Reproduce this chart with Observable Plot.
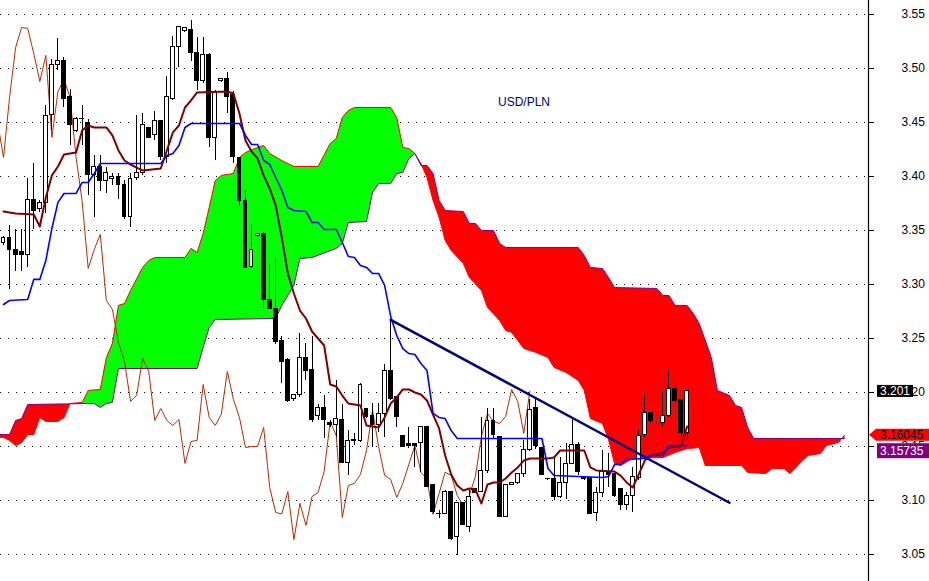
<!DOCTYPE html>
<html><head><meta charset="utf-8">
<script src="https://cdn.jsdelivr.net/npm/d3@7"></script>
<script src="https://cdn.jsdelivr.net/npm/@observablehq/plot@0.6"></script>
<style>html,body{margin:0;padding:0;background:#fff;} #chart{width:929px;height:581px;overflow:hidden;position:relative;}</style>
</head><body><div id="chart"></div>
<script>
// ---- Candles (bar index 0..113) ----
const open = [
3.338,3.3426,3.3324,3.3297,3.3269,3.3778,3.3695,3.375,3.4565,3.5037,
3.5065,3.4732,3.4417,3.4537,3.4491,3.401,3.4084,3.3954,3.3973,3.3991,
3.3917,3.3621,3.3982,3.4028,3.4445,3.438,3.451,3.4176,3.4713,3.5195,
3.5343,3.5361,3.5139,3.488,3.5121,3.4361,3.488,3.4899,3.475,3.4167,
3.3769,3.3158,3.3445,3.3463,3.2852,3.2769,3.2473,3.2297,3.1936,3.1973,
3.2315,3.2204,3.1787,3.1852,3.1713,3.1695,3.1741,3.1343,3.1547,3.1547,
3.1843,3.1778,3.1695,3.1797,3.2195,3.1954,3.1593,3.1519,3.1519,3.1528,
3.1676,3.1139,3.0871,3.0871,3.1083,3.0658,3.0973,3.075,3.1102,3.1083,
3.1269,3.1732,3.1584,3.0843,3.1148,3.1158,3.1241,3.1463,3.1852,3.1482,
3.12,3.1195,3.1028,3.1158,3.1334,3.151,3.1204,3.1204,3.088,3.1074,
3.125,3.1241,3.1111,3.0954,3.1046,3.1204,3.1602,3.1806,3.1713,3.1713,
3.1778,3.2028,3.1926,3.1621];
const high = [
3.3445,3.3547,3.351,3.351,3.3982,3.4121,3.3778,3.4658,3.5084,3.5278,
3.5102,3.4806,3.4547,3.4658,3.4528,3.4195,3.4195,3.4084,3.4028,3.4028,
3.3963,3.4028,3.4565,3.4584,3.4454,3.4602,3.4519,3.4926,3.5297,3.539,
3.538,3.5445,3.5287,3.5287,3.5139,3.4797,3.4908,3.4963,3.4787,3.4176,
3.3871,3.3556,3.3473,3.3482,3.3186,3.325,3.2519,3.2315,3.1982,3.2547,
3.2454,3.2519,3.1889,3.1973,3.1741,3.2111,3.1889,3.1648,3.1621,3.2084,
3.1852,3.1898,3.1898,3.226,3.2676,3.1954,3.1593,3.1676,3.1519,3.1676,
3.1676,3.1139,3.0908,3.1093,3.1083,3.0973,3.0973,3.1093,3.1102,3.1769,
3.1852,3.1852,3.1593,3.1139,3.1167,3.1241,3.1556,3.1936,3.1936,3.1482,
3.1204,3.1398,3.1398,3.1528,3.1759,3.1537,3.1213,3.1204,3.1121,3.1463,
3.1435,3.1241,3.1111,3.1074,3.1306,3.1648,3.1991,3.1815,3.1723,3.2,
3.2204,3.212,3.1926,3.2019];
const low = [
3.3361,3.2954,3.3121,3.3121,3.3158,3.351,3.3667,3.3658,3.4426,3.4982,
3.4639,3.4287,3.4408,3.4287,3.3824,3.3621,3.3861,3.3843,3.3917,3.3787,
3.3602,3.3528,3.3963,3.401,3.4352,3.4334,3.4148,3.4121,3.4704,3.501,
3.5334,3.5065,3.4797,3.4861,3.4269,3.4148,3.4871,3.4584,3.4121,3.3723,
3.3149,3.3149,3.3435,3.2778,3.2769,3.2445,3.2084,3.1908,3.1917,3.1954,
3.2111,3.1723,3.1741,3.1574,3.1676,3.1584,3.1343,3.1232,3.151,3.1537,
3.1759,3.1491,3.163,3.1584,3.1926,3.1676,3.1491,3.1482,3.1306,3.1262,
3.1121,3.088,3.0834,3.0871,3.063,3.0491,3.0769,3.0704,3.1074,3.1083,
3.125,3.1565,3.0843,3.0843,3.1139,3.1148,3.1213,3.1454,3.1472,3.1232,
3.1185,3.1,3.1019,3.101,3.1334,3.1232,3.1185,3.0871,3.0806,3.1028,
3.1121,3.1028,3.0908,3.0908,3.0889,3.1185,3.1584,3.1713,3.1704,3.1686,
3.1769,3.1898,3.1537,3.1537];
const close = [
3.3426,3.3315,3.3269,3.3269,3.3778,3.3676,3.375,3.4556,3.5037,3.5065,
3.4713,3.4473,3.4537,3.4528,3.401,3.4084,3.3954,3.4037,3.3991,3.3917,
3.3621,3.3973,3.4037,3.4473,3.4361,3.451,3.4176,3.4732,3.5195,3.538,
3.5371,3.5139,3.488,3.5121,3.4361,3.4787,3.4899,3.4732,3.4176,3.3769,
3.3149,3.3324,3.3463,3.2852,3.2769,3.2463,3.2287,3.1917,3.1973,3.2315,
3.2195,3.1741,3.1852,3.1741,3.1695,3.175,3.1343,3.1547,3.1556,3.2074,
3.1769,3.1695,3.1797,3.2195,3.1936,3.1769,3.1491,3.15,3.15,3.1676,
3.1121,3.0889,3.0875,3.1083,3.0639,3.0973,3.0769,3.1037,3.1074,3.1269,
3.1732,3.1602,3.0843,3.1139,3.1158,3.1241,3.1463,3.1834,3.15,3.1232,
3.1195,3.1028,3.1158,3.1334,3.151,3.1262,3.1195,3.0871,3.1065,3.1262,
3.1232,3.1046,3.0954,3.1046,3.1222,3.1593,3.1806,3.1732,3.1713,3.1778,
3.2028,3.1917,3.1621,3.201];

// ---- Ichimoku lines: [bar index, price] vertices ----
const tenkan = [[0,3.2815],[1,3.2852],[4,3.2861],[5,3.3047],[6,3.3047],[7,3.3223],[8,3.3519],[9,3.376],[10,3.3843],[12,3.3843],[13,3.3945],[14,3.3945],[15,3.4028],[16,3.4121],[26,3.4121],[27,3.4195],[28,3.4213],[29,3.4287],[30,3.4454],[31,3.4491],[39,3.4491],[40,3.438],[41,3.4296],[42,3.4296],[43,3.4148],[44,3.4111],[45,3.3991],[46,3.3871],[47,3.3713],[48,3.3685],[50,3.3676],[51,3.3574],[52,3.3574],[53,3.3509],[55,3.3509],[56,3.3389],[57,3.3259],[58,3.325],[59,3.3176],[60,3.3158],[61,3.3102],[62,3.3102],[63,3.2991],[64,3.2704],[65,3.2528],[66,3.2407],[67,3.2361],[68,3.2352],[69,3.2269],[70,3.2204],[71,3.1806],[72,3.1769],[73,3.1759],[74,3.1648],[75,3.1574],[89,3.1574],[90,3.1296],[91,3.1231],[99,3.1213],[100,3.1222],[101,3.1333],[102,3.1333],[103,3.138],[106,3.1389],[107,3.1417],[109,3.1417],[110,3.1509],[113,3.1509]];
const kijun = [[0,3.3676],[2,3.3657],[5,3.3648],[6,3.3537],[7,3.3806],[8,3.401],[9,3.4093],[10,3.4204],[12,3.4222],[13,3.4426],[14,3.4472],[15,3.4454],[17,3.4454],[18,3.438],[19,3.4241],[20,3.4148],[21,3.4111],[22,3.4083],[23,3.4056],[26,3.4074],[27,3.4241],[28,3.4408],[29,3.4472],[30,3.4639],[31,3.4704],[32,3.4778],[37,3.4787],[38,3.4769],[39,3.4584],[40,3.4334],[41,3.4232],[42,3.4167],[43,3.401],[44,3.3889],[45,3.3732],[46,3.3435],[47,3.3102],[48,3.2917],[49,3.2759],[50,3.2685],[51,3.2565],[52,3.25],[53,3.2435],[54,3.2074],[55,3.2056],[56,3.1972],[57,3.1898],[59,3.188],[60,3.1694],[62,3.1676],[63,3.1769],[64,3.1898],[65,3.1954],[66,3.2028],[67,3.2028],[68,3.2],[69,3.1982],[70,3.1926],[71,3.1796],[72,3.1667],[73,3.1417],[74,3.1241],[75,3.1139],[76,3.1093],[77,3.1111],[78,3.1102],[79,3.0972],[80,3.1148],[81,3.1167],[82,3.1167],[83,3.1204],[84,3.126],[85,3.1306],[86,3.137],[87,3.1389],[90,3.1389],[91,3.1398],[92,3.1463],[96,3.1463],[97,3.1306],[98,3.1278],[101,3.1268],[102,3.1231],[103,3.1167],[104,3.112],[105,3.1241],[106,3.137],[107,3.1417],[109,3.1444],[110,3.1491],[112,3.1502],[113,3.1685]];
const senkouA = [[-1,3.1584],[0,3.1584],[1,3.1556],[2,3.1509],[3,3.1537],[4,3.1611],[5,3.1611],[6,3.1769],[7,3.1732],[9,3.1732],[10,3.1769],[11,3.1898],[13,3.1908],[14,3.2019],[16,3.2028],[17,3.2324],[18,3.2454],[19,3.2806],[20,3.2824],[21,3.2945],[23,3.3158],[24,3.3222],[25,3.325],[30,3.325],[31,3.3334],[32,3.3297],[33,3.3472],[34,3.3713],[35,3.3963],[36,3.401],[38,3.4028],[39,3.4176],[40,3.4222],[42,3.4269],[43,3.4287],[44,3.4213],[46,3.4148],[48,3.4093],[52,3.4093],[54,3.4306],[55,3.4352],[56,3.4547],[57,3.4611],[58,3.4639],[64,3.4639],[65,3.4547],[66,3.4269],[67,3.4259],[68,3.4213],[69,3.412],[70,3.3991],[71,3.3778],[72,3.3621],[73,3.3408],[74,3.3315],[76,3.3195],[77,3.3065],[79,3.2945],[80,3.2787],[82,3.2667],[83,3.2574],[84,3.2556],[86,3.2408],[88,3.2371],[90,3.2324],[91,3.2232],[93,3.2186],[95,3.2111],[96,3.2019],[97,3.1759],[99,3.1713],[100,3.1565],[101,3.1342],[102,3.1324],[104,3.1389],[109,3.1398],[111,3.1444],[113,3.1481],[115,3.149],[116,3.1324],[122,3.1324],[123,3.1259],[126,3.125],[127,3.1296],[129,3.1296],[130,3.125],[132,3.137],[133,3.1417],[135,3.1435],[136,3.1509],[138,3.1537],[139,3.16045]];
const senkouB = [[-1,3.1611],[1,3.1611],[2,3.1741],[3,3.1759],[4,3.1889],[11,3.1895],[13,3.1898],[15,3.1898],[16,3.1861],[17,3.1898],[18,3.1908],[19,3.2222],[32,3.2222],[33,3.2417],[34,3.2602],[35,3.2676],[45,3.2685],[46,3.2806],[47,3.2898],[48,3.2991],[49,3.3241],[51,3.325],[55,3.3334],[56,3.338],[57,3.3574],[60,3.3583],[61,3.3852],[62,3.3935],[64,3.3935],[65,3.4028],[66,3.4037],[67,3.4167],[68,3.4213],[69,3.4102],[70,3.4102],[71,3.4028],[72,3.3778],[73,3.3685],[76,3.3676],[77,3.3565],[78,3.3565],[79,3.35],[81,3.35],[82,3.338],[83,3.3343],[95,3.3343],[96,3.3269],[97,3.3158],[99,3.3148],[100,3.3065],[101,3.2972],[108,3.2963],[109,3.2898],[110,3.2898],[111,3.2806],[113,3.2806],[114,3.2732],[115,3.2639],[117,3.2324],[118,3.2019],[120,3.1972],[121,3.188],[122,3.1861],[123,3.1676],[124,3.1574],[139,3.15735]];
const kumoTwists = [11, 68];          // bars where Senkou A and B cross
const trendLine = [[64,3.2673],[120,3.0979]];
const chikouShift = 26;
const yTicks = [3.05,3.10,3.15,3.20,3.25,3.30,3.35,3.40,3.45,3.50,3.55];
const title = "USD/PLN";

// ---- build ----
const xDomain = [-0.496, 142.98];
const yDomain = [3.025, 3.56296];
const candles = open.map((o,i)=>({i, o, h: high[i], l: low[i], c: close[i]}));
const chikou = close.map((c,i)=>({i: i - chikouShift, v: c}));
const pts = arr => arr.map(([i,v])=>({i, v}));
const A = pts(senkouA), B = pts(senkouB);
function kumo(lo, hi){
  const a = A.filter(d=>d.i>=lo && d.i<=hi);
  const b = B.filter(d=>d.i>=lo && d.i<=hi).reverse();
  return a.concat(b);
}
const first = A[0].i, last = A[A.length-1].i;
const segs = [[first, kumoTwists[0], "#ff0000"], [kumoTwists[0], kumoTwists[1], "#00ff00"], [kumoTwists[1], last, "#ff0000"]];

const plot = Plot.plot({
  width: 929, height: 581,
  marginTop: 0, marginBottom: 0, marginLeft: 0, marginRight: 61,
  x: {type: "linear", domain: xDomain, axis: null},
  y: {type: "linear", domain: yDomain, axis: "right", ticks: yTicks, tickFormat: d => d.toFixed(2), tickSize: 5, tickPadding: 28, label: null},
  style: {fontFamily: "'Liberation Sans', Arial, sans-serif", fontSize: "12px", background: "#fff", color: "#000", overflow: "visible"},
  marks: [
    Plot.ruleY(yTicks, {stroke: "#000", strokeDasharray: "1,7", strokeWidth: 1, shapeRendering: "crispEdges"}),
    ...segs.map(([lo, hi, col]) => Plot.line(kumo(lo, hi), {x: "i", y: "v", fill: col, stroke: "none", clip: true})),
    Plot.line(A, {x: "i", y: "v", stroke: "#ff0000", strokeWidth: 1, clip: true}),
    Plot.line(B, {x: "i", y: "v", stroke: "#800080", strokeWidth: 1, clip: true}),
    Plot.line(chikou, {x: "i", y: "v", stroke: "#b03000", strokeWidth: 1, clip: true}),
    Plot.ruleX(candles, {x: "i", y1: "l", y2: "h", stroke: "#000", strokeWidth: 1, shapeRendering: "crispEdges"}),
    Plot.rect(candles, {x1: d => d.i - 0.32, x2: d => d.i + 0.32, y1: "o", y2: "c", fill: d => d.c > d.o ? "#ffffff" : "#000000", stroke: "#000", strokeWidth: 1, shapeRendering: "crispEdges"}),
    Plot.line(pts(kijun), {x: "i", y: "v", stroke: "#800000", strokeWidth: 2}),
    Plot.line(pts(tenkan), {x: "i", y: "v", stroke: "#0000ff", strokeWidth: 1.6}),
    Plot.line(pts(trendLine), {x: "i", y: "v", stroke: "#000080", strokeWidth: 2.5}),
    Plot.ruleX([xDomain[1]], {stroke: "#000", strokeWidth: 1.2})
  ]
});
document.getElementById("chart").appendChild(plot);

// ---- price labels on the axis, and the instrument name ----
const svg = d3.select(plot);
const ys = plot.scale("y");
const xr = 868;
const g = svg.append("g").attr("font-family", "'Liberation Sans', Arial, sans-serif").attr("font-size", 12).attr("text-anchor", "start");
const lastClose = close[close.length-1];
const lastA = senkouA[senkouA.length-1][1];
const lastB = senkouB[senkouB.length-1][1];
// close label
const yc = ys.apply(lastClose);
g.append("rect").attr("x", xr+9).attr("y", yc-6).attr("width", 36).attr("height", 12).attr("fill", "#000");
g.append("text").attr("x", xr+12).attr("y", yc+4.5).attr("fill", "#fff").attr("text-anchor", "start").text(lastClose.toFixed(3));
// senkou A label (arrow)
const ya = ys.apply(lastA);
g.append("path").attr("d", `M${xr+1},${ya} L${xr+8},${ya-6} H929 V${ya+6} H${xr+8} Z`).attr("fill", "#ff0000");
g.append("text").attr("x", xr+12).attr("y", ya+4.5).attr("fill", "#000").attr("text-anchor", "start").text(lastA.toFixed(5));
// senkou B label (pushed below A label)
const yb = Math.max(ys.apply(lastB), ya + 14);
g.append("rect").attr("x", xr+9).attr("y", yb-5.5).attr("width", 52).attr("height", 15).attr("fill", "#800080");
g.append("text").attr("x", xr+12).attr("y", yb+6.5).attr("fill", "#fff").attr("text-anchor", "start").text(lastB.toFixed(5));
// instrument name
svg.append("text").attr("x", 498).attr("y", 106).attr("fill", "#000080").attr("text-anchor", "start")
  .attr("font-family", "'Liberation Sans', Arial, sans-serif").attr("font-size", 12).text(title);
</script>
</body></html>
